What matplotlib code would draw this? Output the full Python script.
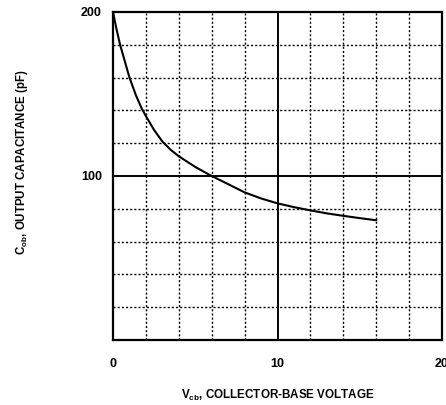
import matplotlib
matplotlib.use('Agg')
import matplotlib.pyplot as plt

# values
vcb = [0, 0.2, 0.43, 1.0, 1.4, 1.75, 2.0, 2.5, 3.0, 3.5, 4.0, 5.0, 5.9,
       7.0, 8.0, 9.0, 10.0, 11.0, 12.0, 13.0, 14.0, 15.0, 16.0]
cob = [200, 190, 180, 160, 149, 141, 136.5, 128, 121, 116, 112, 105.5, 100.5,
       95, 90, 86.3, 83.3, 81, 79, 77.2, 75.7, 74.3, 73]

x_ticks = [0, 10, 20]
y_ticks = [100, 200]

plt.rcParams['font.family'] = ['Liberation Sans', 'DejaVu Sans']
plt.rcParams['font.weight'] = 'bold'
plt.rcParams['mathtext.fontset'] = 'custom'
plt.rcParams['mathtext.rm'] = 'Liberation Sans:bold'
plt.rcParams['mathtext.it'] = 'Liberation Sans:bold'

fig = plt.figure(figsize=(4.46, 4.05), dpi=100)
ax = fig.add_axes([0.2534, 0.1605, 0.7377, 0.81])

# dotted minor grid, solid major grid
for x in range(2, 20, 2):
    if x == 10:
        ax.axvline(x, color='black', lw=1.4)
    else:
        ax.axvline(x, color='black', lw=1.0, ls=(0, (1.5, 1.5)))
for y in range(20, 200, 20):
    if y == 100:
        ax.axhline(y, color='black', lw=1.4)
    else:
        ax.axhline(y, color='black', lw=1.0, ls=(0, (1.5, 1.5)))

ax.plot(vcb, cob, color='black', lw=1.5)

ax.set_xlim(0, 20)
ax.set_ylim(0, 200)
ax.set_xticks(x_ticks)
ax.set_yticks(y_ticks)
ax.tick_params(axis='x', length=0, labelsize=9, pad=13)
ax.tick_params(axis='y', length=0, labelsize=9, pad=8)
for s in ax.spines.values():
    s.set_linewidth(1.6)

ax.set_xlabel(r'$\mathrm{V_{cb}}$, COLLECTOR-BASE VOLTAGE', fontsize=8.4,
              fontweight='bold', labelpad=13)
fig.text(22 / 446, 1 - 162 / 405, r'$\mathrm{C_{ob}}$, OUTPUT CAPACITANCE (pF)',
         rotation=90, fontsize=8.3, fontweight='bold', ha='center', va='center')

fig.savefig('out.png', dpi=100)
